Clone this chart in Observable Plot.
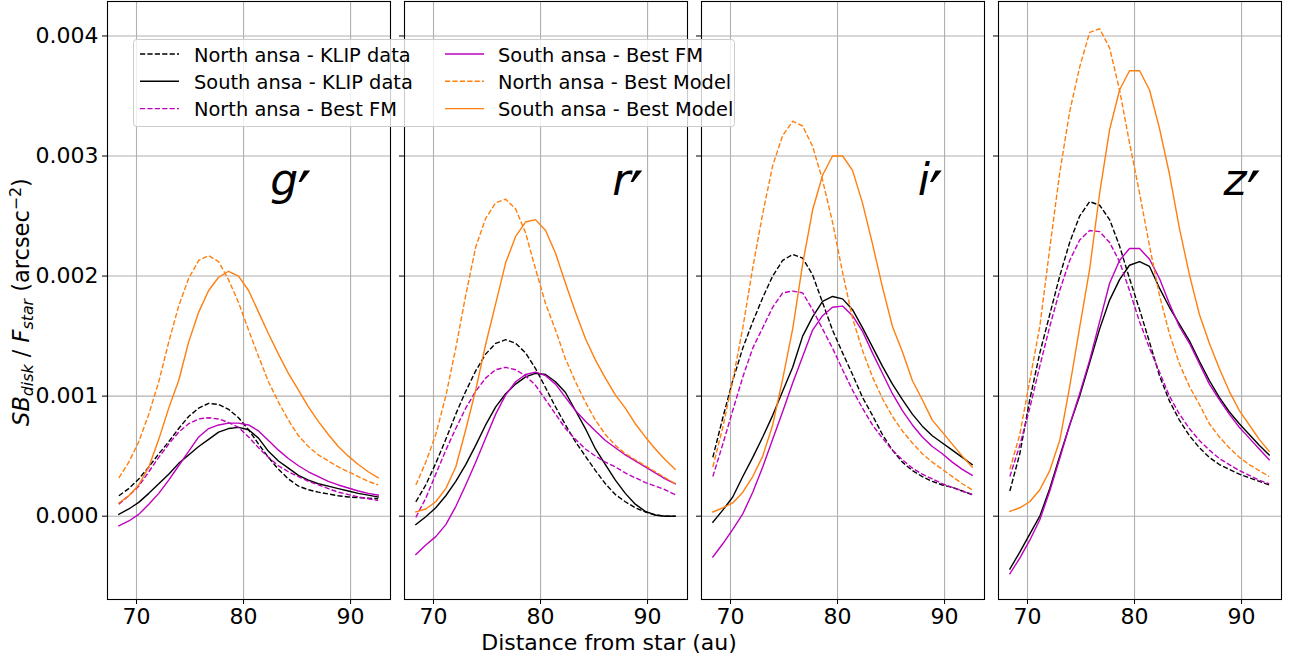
<!DOCTYPE html>
<html><head><meta charset="utf-8">
<script src="https://cdn.jsdelivr.net/npm/d3@7"></script>
<script src="https://cdn.jsdelivr.net/npm/@observablehq/plot@0.6"></script>
<style>
body{margin:0;background:#fff;}
#fig{position:relative;width:1298px;height:662px;overflow:hidden;font-family:"DejaVu Sans",sans-serif;}
.panel{position:absolute;top:0;}
</style></head><body><div id="fig"></div>
<script>
// Distance from star (au), shared sampling grid
const distance = [68.35,69.28,70.21,71.15,72.08,73.01,73.94,74.87,75.81,76.74,77.67,78.60,79.53,80.47,81.40,82.33,83.26,84.19,85.13,86.06,86.99,87.92,88.85,89.79,90.72,91.65,92.58];

// g'
const g_northKLIP  = [0.17e-3,0.23e-3,0.31e-3,0.41e-3,0.52e-3,0.62e-3,0.73e-3,0.83e-3,0.90e-3,0.94e-3,0.93e-3,0.89e-3,0.82e-3,0.72e-3,0.60e-3,0.49e-3,0.39e-3,0.31e-3,0.25e-3,0.22e-3,0.20e-3,0.185e-3,0.17e-3,0.16e-3,0.155e-3,0.15e-3,0.145e-3];
const g_southKLIP  = [0.015e-3,0.06e-3,0.115e-3,0.19e-3,0.27e-3,0.35e-3,0.44e-3,0.51e-3,0.58e-3,0.64e-3,0.70e-3,0.73e-3,0.74e-3,0.72e-3,0.65e-3,0.54e-3,0.46e-3,0.40e-3,0.34e-3,0.30e-3,0.27e-3,0.25e-3,0.23e-3,0.21e-3,0.19e-3,0.175e-3,0.16e-3];
const g_northFM    = [0.10e-3,0.17e-3,0.25e-3,0.37e-3,0.49e-3,0.60e-3,0.70e-3,0.77e-3,0.81e-3,0.82e-3,0.81e-3,0.78e-3,0.74e-3,0.66e-3,0.57e-3,0.49e-3,0.42e-3,0.37e-3,0.33e-3,0.29e-3,0.26e-3,0.23e-3,0.20e-3,0.18e-3,0.16e-3,0.145e-3,0.13e-3];
const g_southFM    = [-0.08e-3,-0.04e-3,0.015e-3,0.10e-3,0.19e-3,0.30e-3,0.42e-3,0.54e-3,0.66e-3,0.73e-3,0.76e-3,0.775e-3,0.775e-3,0.76e-3,0.71e-3,0.63e-3,0.55e-3,0.48e-3,0.42e-3,0.37e-3,0.33e-3,0.29e-3,0.26e-3,0.235e-3,0.21e-3,0.19e-3,0.175e-3];
const g_northModel = [0.32e-3,0.45e-3,0.62e-3,0.85e-3,1.12e-3,1.45e-3,1.75e-3,1.98e-3,2.13e-3,2.17e-3,2.12e-3,1.97e-3,1.78e-3,1.55e-3,1.33e-3,1.12e-3,0.95e-3,0.80e-3,0.67e-3,0.58e-3,0.51e-3,0.46e-3,0.41e-3,0.37e-3,0.33e-3,0.29e-3,0.26e-3];
const g_southModel = [0.11e-3,0.17e-3,0.26e-3,0.41e-3,0.64e-3,0.90e-3,1.13e-3,1.45e-3,1.70e-3,1.88e-3,1.99e-3,2.04e-3,2.00e-3,1.88e-3,1.70e-3,1.52e-3,1.35e-3,1.19e-3,1.05e-3,0.91e-3,0.79e-3,0.68e-3,0.58e-3,0.50e-3,0.43e-3,0.37e-3,0.32e-3];

// r'
const r_northKLIP  = [0.12e-3,0.26e-3,0.44e-3,0.64e-3,0.85e-3,1.04e-3,1.21e-3,1.35e-3,1.44e-3,1.47e-3,1.44e-3,1.36e-3,1.23e-3,1.07e-3,0.91e-3,0.76e-3,0.62e-3,0.50e-3,0.38e-3,0.27e-3,0.18e-3,0.12e-3,0.07e-3,0.035e-3,0.01e-3,0.0,0.0];
const r_southKLIP  = [-0.07e-3,-0.005e-3,0.07e-3,0.17e-3,0.29e-3,0.43e-3,0.59e-3,0.76e-3,0.91e-3,1.02e-3,1.10e-3,1.16e-3,1.19e-3,1.18e-3,1.12e-3,1.03e-3,0.88e-3,0.73e-3,0.56e-3,0.43e-3,0.30e-3,0.19e-3,0.10e-3,0.04e-3,0.01e-3,0.0,0.0];
const r_northFM    = [-0.01e-3,0.15e-3,0.35e-3,0.55e-3,0.73e-3,0.90e-3,1.04e-3,1.15e-3,1.22e-3,1.24e-3,1.22e-3,1.17e-3,1.09e-3,0.97e-3,0.85e-3,0.73e-3,0.64e-3,0.56e-3,0.50e-3,0.45e-3,0.41e-3,0.36e-3,0.32e-3,0.28e-3,0.25e-3,0.22e-3,0.18e-3];
const r_southFM    = [-0.32e-3,-0.24e-3,-0.17e-3,-0.07e-3,0.08e-3,0.26e-3,0.45e-3,0.65e-3,0.85e-3,1.01e-3,1.12e-3,1.18e-3,1.20e-3,1.17e-3,1.10e-3,0.99e-3,0.88e-3,0.79e-3,0.71e-3,0.63e-3,0.57e-3,0.51e-3,0.46e-3,0.41e-3,0.36e-3,0.31e-3,0.27e-3];
const r_northModel = [0.26e-3,0.45e-3,0.68e-3,1.00e-3,1.40e-3,1.84e-3,2.24e-3,2.48e-3,2.61e-3,2.64e-3,2.56e-3,2.36e-3,2.06e-3,1.77e-3,1.55e-3,1.31e-3,1.12e-3,0.95e-3,0.80e-3,0.68e-3,0.59e-3,0.52e-3,0.47e-3,0.42e-3,0.37e-3,0.32e-3,0.27e-3];
const r_southModel = [0.035e-3,0.06e-3,0.12e-3,0.23e-3,0.41e-3,0.72e-3,1.05e-3,1.43e-3,1.77e-3,2.11e-3,2.33e-3,2.45e-3,2.47e-3,2.38e-3,2.19e-3,1.94e-3,1.70e-3,1.48e-3,1.30e-3,1.15e-3,1.01e-3,0.90e-3,0.77e-3,0.66e-3,0.56e-3,0.47e-3,0.39e-3];

// i'
const i_northKLIP  = [0.49e-3,0.82e-3,1.13e-3,1.40e-3,1.62e-3,1.82e-3,2.00e-3,2.13e-3,2.18e-3,2.15e-3,2.01e-3,1.78e-3,1.55e-3,1.36e-3,1.18e-3,0.99e-3,0.84e-3,0.68e-3,0.55e-3,0.45e-3,0.38e-3,0.33e-3,0.29e-3,0.26e-3,0.24e-3,0.21e-3,0.18e-3];
const i_southKLIP  = [-0.05e-3,0.05e-3,0.16e-3,0.33e-3,0.49e-3,0.66e-3,0.84e-3,1.04e-3,1.24e-3,1.50e-3,1.66e-3,1.79e-3,1.83e-3,1.81e-3,1.72e-3,1.57e-3,1.41e-3,1.25e-3,1.10e-3,0.97e-3,0.85e-3,0.75e-3,0.67e-3,0.61e-3,0.55e-3,0.49e-3,0.43e-3];
const i_northFM    = [0.33e-3,0.60e-3,0.88e-3,1.16e-3,1.40e-3,1.57e-3,1.74e-3,1.86e-3,1.875e-3,1.86e-3,1.72e-3,1.56e-3,1.40e-3,1.22e-3,1.05e-3,0.90e-3,0.76e-3,0.65e-3,0.55e-3,0.47e-3,0.40e-3,0.35e-3,0.31e-3,0.27e-3,0.24e-3,0.21e-3,0.18e-3];
const i_southFM    = [-0.34e-3,-0.23e-3,-0.11e-3,0.02e-3,0.20e-3,0.41e-3,0.64e-3,0.87e-3,1.11e-3,1.33e-3,1.55e-3,1.67e-3,1.74e-3,1.75e-3,1.67e-3,1.54e-3,1.36e-3,1.19e-3,1.02e-3,0.88e-3,0.76e-3,0.66e-3,0.58e-3,0.52e-3,0.45e-3,0.39e-3,0.34e-3];
const i_northModel = [0.41e-3,0.74e-3,1.13e-3,1.57e-3,2.07e-3,2.52e-3,2.92e-3,3.17e-3,3.29e-3,3.25e-3,3.08e-3,2.80e-3,2.45e-3,2.03e-3,1.65e-3,1.38e-3,1.16e-3,0.98e-3,0.83e-3,0.71e-3,0.61e-3,0.52e-3,0.45e-3,0.39e-3,0.33e-3,0.27e-3,0.22e-3];
const i_southModel = [0.035e-3,0.07e-3,0.11e-3,0.20e-3,0.33e-3,0.50e-3,0.76e-3,1.14e-3,1.56e-3,2.10e-3,2.55e-3,2.84e-3,3.00e-3,3.00e-3,2.88e-3,2.61e-3,2.27e-3,1.91e-3,1.58e-3,1.37e-3,1.13e-3,0.97e-3,0.80e-3,0.70e-3,0.60e-3,0.50e-3,0.41e-3];

// z'
const z_northKLIP  = [0.21e-3,0.52e-3,0.97e-3,1.36e-3,1.68e-3,2.00e-3,2.28e-3,2.50e-3,2.62e-3,2.59e-3,2.47e-3,2.25e-3,1.98e-3,1.72e-3,1.45e-3,1.17e-3,0.96e-3,0.80e-3,0.67e-3,0.57e-3,0.49e-3,0.43e-3,0.39e-3,0.35e-3,0.32e-3,0.29e-3,0.26e-3];
const z_southKLIP  = [-0.44e-3,-0.30e-3,-0.15e-3,0.00,0.23e-3,0.50e-3,0.76e-3,1.00e-3,1.28e-3,1.56e-3,1.80e-3,1.97e-3,2.09e-3,2.12e-3,2.08e-3,1.90e-3,1.74e-3,1.60e-3,1.46e-3,1.29e-3,1.13e-3,0.99e-3,0.87e-3,0.77e-3,0.68e-3,0.59e-3,0.51e-3];
const z_northFM    = [0.33e-3,0.59e-3,0.90e-3,1.25e-3,1.58e-3,1.88e-3,2.13e-3,2.30e-3,2.38e-3,2.37e-3,2.28e-3,2.12e-3,1.88e-3,1.62e-3,1.40e-3,1.20e-3,1.00e-3,0.85e-3,0.73e-3,0.63e-3,0.55e-3,0.48e-3,0.43e-3,0.38e-3,0.34e-3,0.30e-3,0.27e-3];
const z_southFM    = [-0.48e-3,-0.35e-3,-0.20e-3,-0.03e-3,0.21e-3,0.48e-3,0.76e-3,1.02e-3,1.30e-3,1.62e-3,1.94e-3,2.13e-3,2.23e-3,2.23e-3,2.14e-3,1.98e-3,1.77e-3,1.58e-3,1.44e-3,1.27e-3,1.10e-3,0.97e-3,0.85e-3,0.74e-3,0.65e-3,0.56e-3,0.47e-3];
const z_northModel = [0.39e-3,0.68e-3,1.13e-3,1.58e-3,2.23e-3,2.86e-3,3.37e-3,3.74e-3,4.03e-3,4.06e-3,3.90e-3,3.55e-3,3.11e-3,2.69e-3,2.25e-3,1.84e-3,1.52e-3,1.27e-3,1.08e-3,0.93e-3,0.77e-3,0.66e-3,0.57e-3,0.49e-3,0.43e-3,0.38e-3,0.33e-3];
const z_southModel = [0.04e-3,0.07e-3,0.12e-3,0.22e-3,0.38e-3,0.63e-3,1.08e-3,1.57e-3,2.06e-3,2.69e-3,3.22e-3,3.55e-3,3.71e-3,3.71e-3,3.55e-3,3.23e-3,2.85e-3,2.40e-3,2.01e-3,1.68e-3,1.44e-3,1.23e-3,1.04e-3,0.88e-3,0.76e-3,0.64e-3,0.54e-3];

const seriesNames = ["North ansa - KLIP data","South ansa - KLIP data","North ansa - Best FM","South ansa - Best FM","North ansa - Best Model","South ansa - Best Model"];
const bandLetters = ["g","r","i","z"];
const xTicks = [70, 80, 90];
const yTicks = [0, 0.001, 0.002, 0.003, 0.004];

const bandSeries = [
  [g_northKLIP, g_southKLIP, g_northFM, g_southFM, g_northModel, g_southModel],
  [r_northKLIP, r_southKLIP, r_northFM, r_southFM, r_northModel, r_southModel],
  [i_northKLIP, i_southKLIP, i_northFM, i_southFM, i_northModel, i_southModel],
  [z_northKLIP, z_southKLIP, z_northFM, z_southFM, z_northModel, z_southModel]
];

// styling (not data)
const colors = ["#000000","#000000","#bf00bf","#bf00bf","#ff7f0e","#ff7f0e"];
const dashed = [true,false,true,false,true,false];
const labelX = [82.5, 86.7, 87.5, 88.3];
const primeDx = [27, 17, 11, 23];
const labelY = 2.675e-3;
const xDomain = [67.29, 93.73];
const yDomain = [-0.000694, 0.004287];
const panelW = 283, step = 297, firstLeft = 107;
const fig = document.getElementById("fig");

bandSeries.forEach((series, b) => {
  const mL = b === 0 ? firstLeft : 6, mR = 6;
  const rows = [];
  series.forEach((vals, s) => vals.forEach((v, j) => rows.push({x: distance[j], y: v, s: seriesNames[s]})));
  const marks = [
    Plot.gridX({ticks: xTicks, stroke: "#b0b0b0", strokeOpacity: 1, strokeWidth: 1.1}),
    Plot.gridY({ticks: yTicks, stroke: "#b0b0b0", strokeOpacity: 1, strokeWidth: 1.1}),
  ];
  seriesNames.forEach((name, s) => {
    marks.push(Plot.line(rows.filter(d => d.s === name), {
      x: "x", y: "y", stroke: colors[s], strokeWidth: 1.4,
      strokeDasharray: dashed[s] ? "5.2,2.2" : null,
      strokeLinecap: dashed[s] ? "butt" : "square", strokeLinejoin: "round"
    }));
  });
  const lab = [{x: labelX[b], y: labelY, t: bandLetters[b]}];
  marks.push(
    Plot.frame({stroke: "#000", strokeWidth: 1.1}),
    Plot.axisX({ticks: xTicks, tickSize: 5, tickPadding: 4, label: null, fontSize: 22, tickFormat: d => String(d)}),
    Plot.axisY({ticks: yTicks, tickSize: 5, tickPadding: 4, label: null, fontSize: 22,
      tickFormat: b === 0 ? (d => d.toFixed(3)) : (() => "")}),
    Plot.text(lab, {x: "x", y: "y", text: "t",
      textAnchor: "start", lineAnchor: "bottom", fontSize: 44, fontStyle: "italic", fill: "#000"}),
    Plot.text(lab, {x: "x", y: "y", text: () => "\u2032", dx: primeDx[b], dy: 22,
      textAnchor: "start", lineAnchor: "bottom", fontSize: 64, fill: "#000"})
  );
  const chart = Plot.plot({
    width: mL + panelW + mR,
    height: 662,
    marginLeft: mL, marginRight: mR, marginTop: 1, marginBottom: 63,
    x: {domain: xDomain},
    y: {domain: yDomain},
    style: {fontFamily: "DejaVu Sans", fontSize: "22px", background: "transparent", color: "#000"},
    marks
  });
  chart.classList.add("panel");
  chart.style.left = (firstLeft + b * step - mL) + "px";
  chart.style.maxWidth = "none";
  fig.appendChild(chart);
});

// overlay: legend + axis titles
const ov = d3.select(fig).append("svg")
  .attr("width", 1298).attr("height", 662)
  .style("position", "absolute").style("left", "0px").style("top", "0px")
  .style("font-family", "DejaVu Sans");

ov.append("text").attr("x", 609).attr("y", 650).attr("text-anchor", "middle")
  .attr("font-size", 22).attr("fill", "#000").text("Distance from star (au)");

const yl = ov.append("text").attr("transform", "translate(29,302) rotate(-90)")
  .attr("text-anchor", "middle").attr("font-size", 22.5).attr("fill", "#000");
yl.append("tspan").attr("font-style", "italic").text("SB");
yl.append("tspan").attr("font-style", "italic").attr("font-size", 15.8).attr("dy", 4).text("disk");
yl.append("tspan").attr("dy", -4).text(" / ");
yl.append("tspan").attr("font-style", "italic").text("F");
yl.append("tspan").attr("font-style", "italic").attr("font-size", 15.8).attr("dy", 4).text("star");
yl.append("tspan").attr("dy", -4).text(" (arcsec");
yl.append("tspan").attr("font-size", 15.8).attr("dy", -8).text("−2");
yl.append("tspan").attr("dy", 8).text(")");

const leg = ov.append("g");
leg.append("rect").attr("x", 133.5).attr("y", 39.5).attr("width", 601).attr("height", 87).attr("rx", 3)
  .attr("fill", "#fff").attr("fill-opacity", 0.8).attr("stroke", "#cccccc").attr("stroke-width", 1);
const legCols = [{x0: 140, x1: 179, tx: 194}, {x0: 445, x1: 484, tx: 498}];
const legRows = [54, 81.3, 108.6];
seriesNames.forEach((name, s) => {
  const c = legCols[Math.floor(s / 3)], y = legRows[s % 3];
  leg.append("line").attr("x1", c.x0).attr("x2", c.x1).attr("y1", y).attr("y2", y)
    .attr("stroke", colors[s]).attr("stroke-width", 1.4)
    .attr("stroke-dasharray", dashed[s] ? "5.2,2.2" : null);
  leg.append("text").attr("x", c.tx).attr("y", y + 7.7).attr("font-size", 19.4).attr("fill", "#000").text(name);
});
</script>
</body></html>
